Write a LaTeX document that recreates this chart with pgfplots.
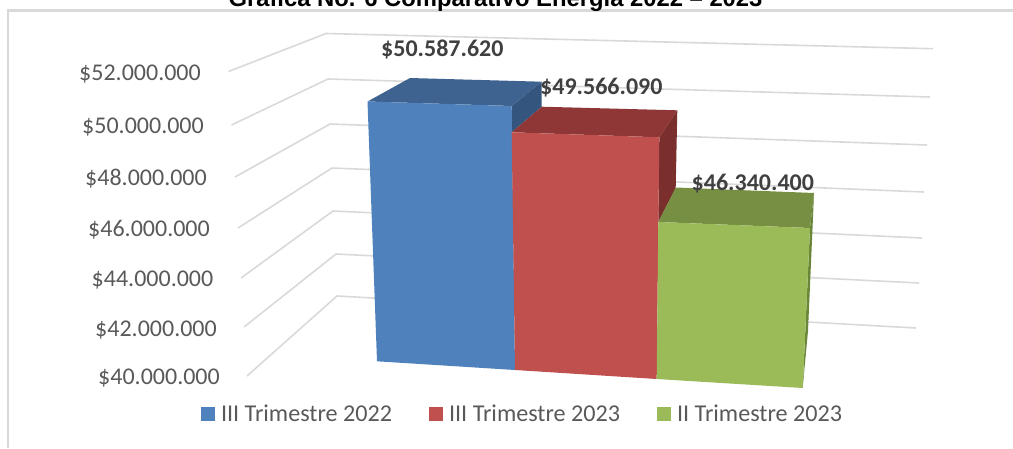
\documentclass[border=0pt]{standalone}
\usepackage{fontspec}
\usepackage{pgfplots}
\pgfplotsset{compat=1.18}
\setmainfont{Carlito}
\newfontfamily\titlefont{Liberation Sans}
\definecolor{bluef}{HTML}{4F81BD}\definecolor{bluet}{HTML}{3F6390}\definecolor{blues}{HTML}{34567E}
\definecolor{redf}{HTML}{C0504D}\definecolor{redt}{HTML}{8F3736}\definecolor{reds}{HTML}{7B2F2D}
\definecolor{greenf}{HTML}{9BBB59}\definecolor{greent}{HTML}{778F42}\definecolor{greens}{HTML}{6A8638}
\definecolor{gridc}{HTML}{D9D9D9}\definecolor{tickc}{HTML}{595959}\definecolor{labc}{HTML}{404040}
\newcommand{\fs}[1]{\fontsize{#1}{#1}\selectfont}
\pgfplotsset{
  grid3d/.style={draw=gridc,line width=1.6pt,no markers,forget plot},
  face/.style={fill=#1,draw=none,no markers,forget plot},
  front/.style={fill=#1,draw=none,no markers},
}
\begin{document}
\begin{tikzpicture}
\clip (0,0) rectangle (1013pt,448pt);
\begin{axis}[
  at={(0,0)},anchor=south west,
  scale only axis,x=1pt,y=1pt,
  xmin=0,xmax=1013,ymin=0,ymax=448,y dir=reverse,
  hide axis,clip=false,
  legend style={draw=none,fill=none,at={(axis cs:201,414)},anchor=west,legend columns=3,
    font=\fs{24.15}\color{tickc},inner sep=0pt,outer sep=0pt,row sep=0pt,
    /tikz/every odd column/.append style={column sep=4pt},
    /tikz/every even column/.append style={column sep=35pt}},
  legend image code/.code={\fill[#1,draw=none] (0pt,-7pt) rectangle (14pt,7pt);},
]
% frame
\addplot[draw=gridc,line width=2.4pt,no markers,forget plot] coordinates {(8,448) (8,10.5) (1013,10.5)};
% gridlines: 52M ... 40M
\addplot[grid3d] coordinates {(228.5,71.5) (326,33.5) (933,48.7)};
\addplot[grid3d] coordinates {(231.5,125) (328,79) (930,97)};
\addplot[grid3d] coordinates {(235,177) (330,124) (927,145)};
\addplot[grid3d] coordinates {(238,228) (332,168) (924,192)};
\addplot[grid3d] coordinates {(241,278) (333,211) (922,238)};
\addplot[grid3d] coordinates {(244,327) (336,254) (919,283)};
\addplot[grid3d] coordinates {(247,376) (337,296) (916,328)};
% blue bar
\addplot[face=bluet] coordinates {(367.5,101.5) (410,78) (541.7,81.7) (511.7,106)} -- cycle;
\addplot[face=blues] coordinates {(511.7,106) (541.7,81.7) (541.7,106.7) (511.7,132.3)} -- cycle;
% red bar
\addplot[face=redt] coordinates {(511.7,132.3) (541.7,106.7) (677.3,110.3) (659.3,137.3)} -- cycle;
\addplot[face=reds] coordinates {(659.3,137.3) (677.3,110.3) (675.7,188.3) (658.3,222)} -- cycle;
% green bar
\addplot[face=greent] coordinates {(658.3,222) (675.7,187.5) (814,193) (810,228)} -- cycle;
\addplot[face=greens] coordinates {(810,228) (814,193) (812.7,224) (808,331) (803.5,379) (802.7,388)} -- cycle;
% fronts
\addplot[front=bluef] coordinates {(367.5,101.5) (511.7,106) (515,370) (377,361.3)} -- cycle;
\addlegendentry{III Trimestre 2022}
\addplot[front=redf] coordinates {(511.7,132.3) (659.3,137.3) (656.7,379) (515,370)} -- cycle;
\addlegendentry{III Trimestre 2023}
\addplot[front=greenf] coordinates {(658.3,222) (810,228) (802.7,388) (656.7,379)} -- cycle;
\addlegendentry{II Trimestre 2023}
% title
\node[anchor=base,inner sep=0pt,font=\titlefont\bfseries\fs{23.8}] at (axis cs:495.5,6) {Gráfica No. 6 Comparativo Energía 2022 – 2023};
% tick labels
\foreach \x/\y/\t in {201/80/52, 204/133/50, 207/185/48, 210/236.7/46, 213.5/286/44, 217/336/42, 220/384.7/40}{
  \edef\temp{\noexpand\node[anchor=base east,inner sep=0pt,text=tickc,font=\noexpand\fs{24}] at (axis cs:\x,\y) {\noexpand\$\t.000.000};}
  \temp
}
% data labels
\node[anchor=base west,inner sep=0pt,text=labc,font=\bfseries\fs{24}] at (axis cs:381,56.7) {\$50.587.620};
\node[anchor=base west,inner sep=0pt,text=labc,font=\bfseries\fs{24}] at (axis cs:540,94) {\$49.566.090};
\node[anchor=base west,inner sep=0pt,text=labc,font=\bfseries\fs{24}] at (axis cs:691.5,190) {\$46.340.400};
\end{axis}
\end{tikzpicture}
\end{document}
